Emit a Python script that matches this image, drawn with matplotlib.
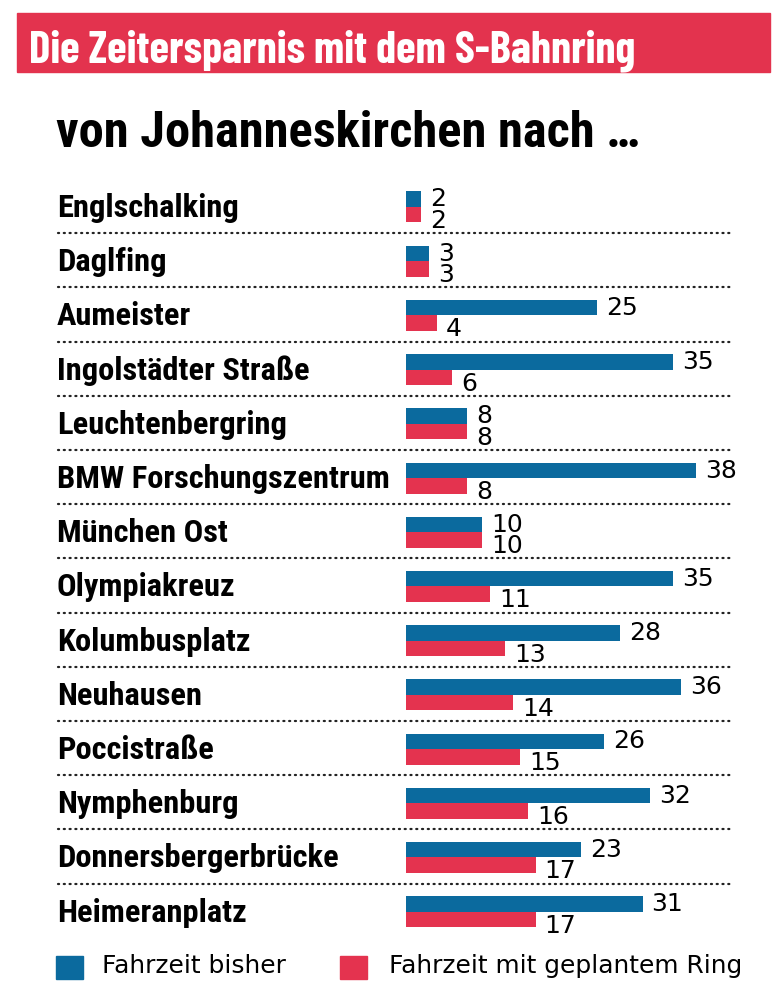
import matplotlib
matplotlib.use("Agg")
import matplotlib.pyplot as plt
from matplotlib.patches import Rectangle
from matplotlib.textpath import TextPath
from matplotlib.font_manager import FontProperties

stations = ["Englschalking", "Daglfing", "Aumeister", "Ingolstädter Straße",
            "Leuchtenbergring", "BMW Forschungszentrum", "München Ost",
            "Olympiakreuz", "Kolumbusplatz", "Neuhausen", "Poccistraße",
            "Nymphenburg", "Donnersbergerbrücke", "Heimeranplatz"]
bisher = [2, 3, 25, 35, 8, 38, 10, 35, 28, 36, 26, 32, 23, 31]
ring = [2, 3, 4, 6, 8, 8, 10, 11, 13, 14, 15, 16, 17, 17]

title = "Die Zeitersparnis mit dem S-Bahnring"
subtitle = "von Johanneskirchen nach \u2026"
legend_labels = ["Fahrzeit bisher", "Fahrzeit mit geplantem Ring"]

BLUE = "#0b6a9e"
RED = "#e4334f"
BANNER = "#e3334e"

COND = ["Roboto Condensed", "DejaVu Sans"]
TITLE_FONT = ["Barlow Condensed", "DejaVu Sans"]
REG = ["DejaVu Sans"]

W, H = 781, 1000
DPI = 100


def fit_size(text, target_px, family, weight):
    """Font size (pt) so that the text is target_px wide."""
    fp = FontProperties(family=family, weight=weight, size=100)
    tp = TextPath((0, 0), text, prop=fp)
    wpt = tp.get_extents().width  # in points at 100pt
    wpx = wpt * DPI / 72.0
    return 100 * target_px / wpx


fig = plt.figure(figsize=(W / DPI, H / DPI), dpi=DPI)
ax = fig.add_axes([0, 0, 1, 1])
ax.axis("off")

PX_PER_UNIT = 7.63
X0 = 406
ROW0 = 207
ROWH = 54.2
ax.set_xlim(-X0 / PX_PER_UNIT, (W - X0) / PX_PER_UNIT)
ax.set_ylim((H - ROW0) / ROWH, -ROW0 / ROWH)


def px_x(p):
    return (p - X0) / PX_PER_UNIT


def fy(p):
    return 1 - p / H


# banner
fig.patches.append(Rectangle((17 / W, fy(72)), (770 - 17) / W, 59 / H,
                             transform=fig.transFigure, color=BANNER, zorder=0))
ts = fit_size(title, 602, TITLE_FONT[0], "bold")
fig.text(29 / W, fy(62.5), title, color="white", fontsize=ts, fontweight="bold",
         family=TITLE_FONT, va="baseline", ha="left")
ss = fit_size(subtitle, 581, COND[0], "bold")
fig.text(56 / W, fy(147), subtitle, color="black", fontsize=ss, fontweight="bold",
         family=COND, va="baseline", ha="left")

ls = fit_size("BMW Forschungszentrum", 329, COND[0], "bold")

bh = 15.5 / ROWH
off = 7.75 / ROWH
for i, (name, b, r) in enumerate(zip(stations, bisher, ring)):
    ax.barh(i - off, b, height=bh, color=BLUE, left=0)
    ax.barh(i + off, r, height=bh, color=RED, left=0)
    ax.text(b + 9 / PX_PER_UNIT, i - 0.5 / ROWH, str(b), fontsize=18,
            family=REG, va="baseline", ha="left", color="black")
    ax.text(r + 9 / PX_PER_UNIT, i + 21 / ROWH, str(r), fontsize=18,
            family=REG, va="baseline", ha="left", color="black")
    ax.text(px_x(57), i + 10 / ROWH, name, fontsize=ls, fontweight="bold",
            family=COND, va="baseline", ha="left", color="black")
    if i < len(stations) - 1:
        ax.plot([px_x(58), px_x(733)], [i + 0.485, i + 0.485], color="#222222",
                lw=1.6, linestyle=(0, (0.5, 2.1)), dash_capstyle="round")

# legend
for x0, col, lab, tx in [(56, BLUE, legend_labels[0], 102), (340, RED, legend_labels[1], 389)]:
    fig.patches.append(Rectangle((x0 / W, fy(979)), 27 / W, 23 / H,
                                 transform=fig.transFigure, color=col))
    fig.text(tx / W, fy(973), lab, fontsize=17.9, family=REG, va="baseline",
             ha="left", color="black")

fig.savefig("out.png", dpi=DPI, facecolor="white")
